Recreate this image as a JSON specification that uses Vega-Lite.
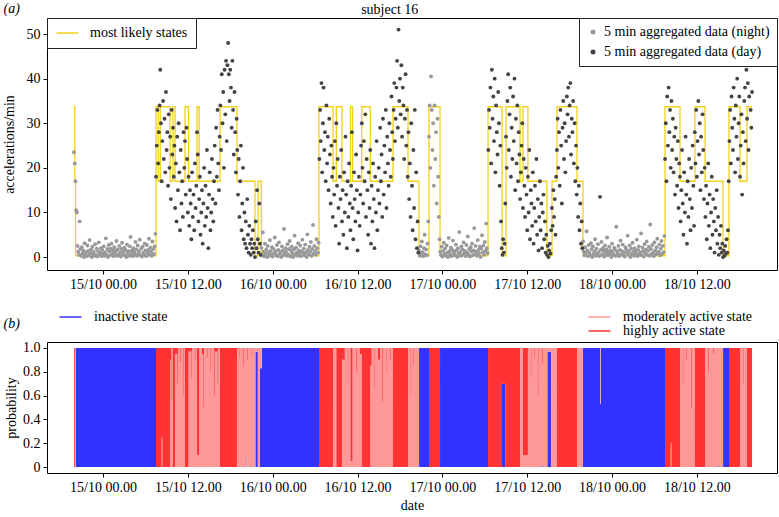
{
"$schema": "https://vega.github.io/schema/vega-lite/v6.json",
"padding": {"left": 1, "top": 0, "right": 0, "bottom": 0},
"background": "white",
"config": {
 "font": "Liberation Serif",
 "view": {"stroke": "#000", "strokeWidth": 1},
 "axis": {"grid": false, "domain": false, "tickColor": "#000", "tickSize": 4, "labelFont": "Liberation Serif", "labelFontSize": 14, "labelColor": "#000", "titleFont": "Liberation Serif", "titleFontSize": 14, "titleFontWeight": "normal", "titleColor": "#000", "labelPadding": 3},
 "legend": {"labelFont": "Liberation Serif", "labelFontSize": 14, "labelColor": "#000", "labelLimit": 400},
 "title": {"font": "Liberation Serif", "fontSize": 14, "fontWeight": "normal", "color": "#000"}
},
"datasets": {
"st": [{"h":-4.1,"v":33.7},{"h":-3.98,"v":17},{"h":-3.88,"v":0.3},{"h":7.5,"v":33.7},{"h":7.8,"v":17},{"h":8.1,"v":33.7},{"h":9.48,"v":17},{"h":9.9,"v":33.7},{"h":10.2,"v":17},{"h":11.6,"v":33.7},{"h":12.1,"v":17},{"h":13.3,"v":33.7},{"h":13.6,"v":17},{"h":16.55,"v":33.7},{"h":18.95,"v":17},{"h":21.5,"v":0.3},{"h":21.92,"v":17},{"h":22.4,"v":0.3},{"h":30.55,"v":33.7},{"h":32.53,"v":17},{"h":33,"v":33.7},{"h":33.8,"v":17},{"h":35,"v":33.7},{"h":35.3,"v":17},{"h":36.6,"v":33.7},{"h":37.8,"v":17},{"h":41.02,"v":33.7},{"h":43.14,"v":17},{"h":44.7,"v":0.3},{"h":46.11,"v":33.7},{"h":47.67,"v":0.3},{"h":54.46,"v":33.7},{"h":56.44,"v":0.3},{"h":57,"v":33.7},{"h":58.98,"v":17},{"h":59.4,"v":33.7},{"h":60.1,"v":17},{"h":62.8,"v":0.3},{"h":63.51,"v":17},{"h":64.21,"v":33.7},{"h":67.04,"v":17},{"h":67.89,"v":0.3},{"h":79.49,"v":33.7},{"h":81.61,"v":17},{"h":83.73,"v":33.7},{"h":85.15,"v":17},{"h":87.7,"v":0.3},{"h":88.54,"v":33.7},{"h":90.1,"v":17},{"h":91.09,"v":33.7},{"h":91.8,"v":33.7}],
"n": [{"h":-4.1,"v":23.5},{"h":-4,"v":21},{"h":-3.9,"v":17},{"h":-3.8,"v":10.5},{"h":-3.7,"v":10},{"h":-3.6,"v":2.5},{"h":-3.5,"v":1.2},{"h":-3.4,"v":0.5},{"h":-3.3,"v":8},{"h":-3.2,"v":1.8},{"h":-3.1,"v":0.3},{"h":-3,"v":2.2},{"h":-2.9,"v":0.8},{"h":-2.8,"v":1.5},{"h":-2.7,"v":0},{"h":-2.6,"v":3.1},{"h":-2.5,"v":0.6},{"h":-2.4,"v":1.1},{"h":-2.3,"v":0.2},{"h":-2.2,"v":2.6},{"h":-2.1,"v":1.4},{"h":-2,"v":0.4},{"h":-1.9,"v":3.8},{"h":-1.8,"v":0.9},{"h":-1.7,"v":1.7},{"h":-1.6,"v":0},{"h":-1.5,"v":2.3},{"h":-1.4,"v":0.7},{"h":-1.3,"v":1.2},{"h":-1.2,"v":0.3},{"h":-1.1,"v":2.9},{"h":-1,"v":0.5},{"h":-0.9,"v":1.9},{"h":-0.8,"v":0.1},{"h":-0.7,"v":1.3},{"h":-0.6,"v":3.3},{"h":-0.5,"v":0.6},{"h":-0.4,"v":1},{"h":-0.3,"v":2},{"h":-0.2,"v":0.2},{"h":-0.1,"v":1.6},{"h":0,"v":0.8},{"h":0.1,"v":2.4},{"h":0.2,"v":0.3},{"h":0.3,"v":1.1},{"h":0.4,"v":4.2},{"h":0.5,"v":0.5},{"h":0.6,"v":1.8},{"h":0.7,"v":0},{"h":0.8,"v":2.7},{"h":0.9,"v":1.3},{"h":1,"v":0.4},{"h":1.1,"v":1.9},{"h":1.2,"v":3},{"h":1.3,"v":0.7},{"h":1.4,"v":1.5},{"h":1.5,"v":0.2},{"h":1.6,"v":2.2},{"h":1.7,"v":0.9},{"h":1.8,"v":1.4},{"h":1.9,"v":3.6},{"h":2,"v":0.3},{"h":2.1,"v":1.7},{"h":2.2,"v":0.6},{"h":2.3,"v":2.5},{"h":2.4,"v":1},{"h":2.5,"v":0.1},{"h":2.6,"v":1.8},{"h":2.7,"v":3.2},{"h":2.8,"v":0.5},{"h":2.9,"v":1.2},{"h":3,"v":2.1},{"h":3.1,"v":0.4},{"h":3.2,"v":1.6},{"h":3.3,"v":0},{"h":3.4,"v":2.8},{"h":3.5,"v":0.9},{"h":3.6,"v":1.3},{"h":3.7,"v":0.3},{"h":3.8,"v":2.4},{"h":3.9,"v":4.5},{"h":4,"v":0.7},{"h":4.1,"v":1.5},{"h":4.2,"v":0.2},{"h":4.3,"v":2},{"h":4.4,"v":1.1},{"h":4.5,"v":0.5},{"h":4.6,"v":3.4},{"h":4.7,"v":1.7},{"h":4.8,"v":0.3},{"h":4.9,"v":2.6},{"h":5,"v":0.8},{"h":5.1,"v":1.3},{"h":5.2,"v":3.9},{"h":5.3,"v":0.4},{"h":5.4,"v":1.9},{"h":5.5,"v":0.1},{"h":5.6,"v":2.3},{"h":5.7,"v":1},{"h":5.8,"v":0.6},{"h":5.9,"v":3},{"h":6,"v":1.5},{"h":6.1,"v":0.2},{"h":6.2,"v":2.7},{"h":6.3,"v":0.9},{"h":6.4,"v":1.6},{"h":6.5,"v":4.1},{"h":6.6,"v":0.5},{"h":6.7,"v":2.1},{"h":6.8,"v":1.2},{"h":6.9,"v":0.3},{"h":7,"v":3.5},{"h":7.1,"v":1.8},{"h":7.2,"v":0.7},{"h":7.3,"v":2.4},{"h":7.4,"v":5.2},
{"h":22.4,"v":2.1},{"h":22.5,"v":0.4},{"h":22.6,"v":5.5},{"h":22.7,"v":1.2},{"h":22.8,"v":0.2},{"h":22.9,"v":3},{"h":23,"v":0.8},{"h":23.1,"v":1.7},{"h":23.2,"v":0},{"h":23.3,"v":2.5},{"h":23.4,"v":1},{"h":23.5,"v":0.3},{"h":23.6,"v":3.8},{"h":23.7,"v":1.4},{"h":23.8,"v":0.6},{"h":23.9,"v":2.2},{"h":24,"v":0.1},{"h":24.1,"v":1.9},{"h":24.2,"v":0.9},{"h":24.3,"v":4.4},{"h":24.4,"v":1.3},{"h":24.5,"v":0.5},{"h":24.6,"v":2.7},{"h":24.7,"v":0.2},{"h":24.8,"v":1.6},{"h":24.9,"v":3.3},{"h":25,"v":0.7},{"h":25.1,"v":1.1},{"h":25.2,"v":0},{"h":25.3,"v":2.4},{"h":25.4,"v":1.5},{"h":25.5,"v":0.4},{"h":25.6,"v":6.3},{"h":25.7,"v":0.9},{"h":25.8,"v":2},{"h":25.9,"v":1.2},{"h":26,"v":0.3},{"h":26.1,"v":2.9},{"h":26.2,"v":0.6},{"h":26.3,"v":1.8},{"h":26.4,"v":3.6},{"h":26.5,"v":0.1},{"h":26.6,"v":1.4},{"h":26.7,"v":2.3},{"h":26.8,"v":0.8},{"h":26.9,"v":0},{"h":27,"v":1.7},{"h":27.1,"v":4.8},{"h":27.2,"v":0.5},{"h":27.3,"v":2.1},{"h":27.4,"v":1},{"h":27.5,"v":0.3},{"h":27.6,"v":3.1},{"h":27.7,"v":1.5},{"h":27.8,"v":0.7},{"h":27.9,"v":2.6},{"h":28,"v":0.2},{"h":28.1,"v":1.3},{"h":28.2,"v":3.9},{"h":28.3,"v":0.9},{"h":28.4,"v":1.9},{"h":28.5,"v":0.4},{"h":28.6,"v":2.8},{"h":28.7,"v":1.1},{"h":28.8,"v":0},{"h":28.9,"v":5.1},{"h":29,"v":1.6},{"h":29.1,"v":0.6},{"h":29.2,"v":2.3},{"h":29.3,"v":1.2},{"h":29.4,"v":3.4},{"h":29.5,"v":0.3},{"h":29.6,"v":1.8},{"h":29.7,"v":7.2},{"h":29.8,"v":0.8},{"h":29.9,"v":2.5},{"h":30,"v":1.4},{"h":30.1,"v":0.5},{"h":30.2,"v":4},{"h":30.3,"v":2},{"h":30.4,"v":1},{"h":30.5,"v":3.2},
{"h":44.7,"v":1.5},{"h":44.8,"v":0.3},{"h":44.9,"v":2.4},{"h":45,"v":0.8},{"h":45.1,"v":3.5},{"h":45.2,"v":1.1},{"h":45.3,"v":0.2},{"h":45.4,"v":2},{"h":45.5,"v":5},{"h":45.6,"v":0.6},{"h":45.7,"v":1.7},{"h":45.8,"v":0.4},{"h":45.9,"v":3},{"h":46,"v":8},{"h":46.1,"v":27},{"h":46.2,"v":34},{"h":46.3,"v":20},{"h":46.4,"v":40.5},{"h":46.5,"v":33},{"h":46.6,"v":24},{"h":46.7,"v":30},{"h":46.8,"v":16},{"h":46.9,"v":34},{"h":47,"v":22},{"h":47.1,"v":28},{"h":47.2,"v":12},{"h":47.3,"v":31},{"h":47.4,"v":18},{"h":47.5,"v":9},{"h":47.6,"v":4},{"h":47.7,"v":1.2},{"h":47.8,"v":0.5},{"h":47.9,"v":2.3},{"h":48,"v":0.1},{"h":48.1,"v":1.4},{"h":48.2,"v":3.2},{"h":48.3,"v":0.7},{"h":48.4,"v":1.9},{"h":48.5,"v":0.3},{"h":48.6,"v":2.6},{"h":48.7,"v":1},{"h":48.8,"v":0},{"h":48.9,"v":4.3},{"h":49,"v":1.3},{"h":49.1,"v":0.6},{"h":49.2,"v":2.1},{"h":49.3,"v":0.2},{"h":49.4,"v":1.6},{"h":49.5,"v":3.7},{"h":49.6,"v":0.9},{"h":49.7,"v":1.2},{"h":49.8,"v":0.4},{"h":49.9,"v":2.8},{"h":50,"v":1.5},{"h":50.1,"v":0},{"h":50.2,"v":2},{"h":50.3,"v":0.8},{"h":50.4,"v":5.6},{"h":50.5,"v":1.1},{"h":50.6,"v":0.3},{"h":50.7,"v":2.4},{"h":50.8,"v":1.7},{"h":50.9,"v":0.5},{"h":51,"v":3.3},{"h":51.1,"v":0.9},{"h":51.2,"v":1.4},{"h":51.3,"v":0.2},{"h":51.4,"v":2.7},{"h":51.5,"v":1},{"h":51.6,"v":4.6},{"h":51.7,"v":0.6},{"h":51.8,"v":1.8},{"h":51.9,"v":0.1},{"h":52,"v":2.2},{"h":52.1,"v":1.3},{"h":52.2,"v":3},{"h":52.3,"v":0.4},{"h":52.4,"v":1.5},{"h":52.5,"v":6.5},{"h":52.6,"v":0.7},{"h":52.7,"v":2.5},{"h":52.8,"v":1.2},{"h":52.9,"v":0.3},{"h":53,"v":3.8},{"h":53.1,"v":1.6},{"h":53.2,"v":0.8},{"h":53.3,"v":2.3},{"h":53.4,"v":0},{"h":53.5,"v":1.9},{"h":53.6,"v":4.9},{"h":53.7,"v":1.1},{"h":53.8,"v":2.6},{"h":53.9,"v":0.5},{"h":54,"v":3.4},{"h":54.1,"v":1.4},{"h":54.2,"v":7.5},{"h":54.3,"v":2},{"h":54.4,"v":0.9},
{"h":67.9,"v":3.5},{"h":68,"v":1.2},{"h":68.1,"v":0.4},{"h":68.2,"v":2.2},{"h":68.3,"v":0.9},{"h":68.4,"v":5.8},{"h":68.5,"v":1.5},{"h":68.6,"v":0.2},{"h":68.7,"v":2.7},{"h":68.8,"v":1},{"h":68.9,"v":0.5},{"h":69,"v":3.1},{"h":69.1,"v":1.8},{"h":69.2,"v":0},{"h":69.3,"v":2.4},{"h":69.4,"v":0.7},{"h":69.5,"v":1.3},{"h":69.6,"v":4},{"h":69.7,"v":0.3},{"h":69.8,"v":1.9},{"h":69.9,"v":0.8},{"h":70,"v":2.9},{"h":70.1,"v":1.1},{"h":70.2,"v":0.2},{"h":70.4,"v":1.6},{"h":70.5,"v":3.4},{"h":70.6,"v":0.6},{"h":70.7,"v":2},{"h":70.8,"v":1.4},{"h":70.9,"v":0.1},{"h":71,"v":2.6},{"h":71.1,"v":0.9},{"h":71.2,"v":1.7},{"h":71.3,"v":4.4},{"h":71.4,"v":0.4},{"h":71.5,"v":1.2},{"h":71.6,"v":2.3},{"h":71.7,"v":0.7},{"h":71.8,"v":1.5},{"h":71.9,"v":0},{"h":72,"v":3},{"h":72.1,"v":1.1},{"h":72.2,"v":0.5},{"h":72.3,"v":2.1},{"h":72.4,"v":1.8},{"h":72.5,"v":0.3},{"h":72.6,"v":6.8},{"h":72.7,"v":1.3},{"h":72.8,"v":0.8},{"h":72.9,"v":2.5},{"h":73,"v":0.2},{"h":73.1,"v":1.6},{"h":73.2,"v":3.7},{"h":73.3,"v":0.6},{"h":73.4,"v":1.4},{"h":73.5,"v":2.8},{"h":73.6,"v":0.4},{"h":73.7,"v":1},{"h":73.8,"v":0.1},{"h":73.9,"v":2.2},{"h":74,"v":1.7},{"h":74.1,"v":0.9},{"h":74.2,"v":4.8},{"h":74.3,"v":0.5},{"h":74.4,"v":1.3},{"h":74.5,"v":2.6},{"h":74.6,"v":0},{"h":74.7,"v":1.9},{"h":74.8,"v":0.7},{"h":74.9,"v":3.2},{"h":75,"v":1.2},{"h":75.1,"v":0.3},{"h":75.2,"v":2},{"h":75.3,"v":1.5},{"h":75.4,"v":0.8},{"h":75.5,"v":3.9},{"h":75.6,"v":0.2},{"h":75.7,"v":1.6},{"h":75.8,"v":2.4},{"h":75.9,"v":0.6},{"h":76,"v":1.1},{"h":76.1,"v":5.3},{"h":76.2,"v":0.4},{"h":76.3,"v":2.1},{"h":76.4,"v":1.3},{"h":76.5,"v":0.1},{"h":76.6,"v":2.9},{"h":76.7,"v":0.9},{"h":76.8,"v":1.7},{"h":76.9,"v":3.5},{"h":77,"v":0.5},{"h":77.1,"v":1.4},{"h":77.2,"v":2.3},{"h":77.3,"v":0.3},{"h":77.4,"v":7.3},{"h":77.5,"v":1.8},{"h":77.6,"v":0.7},{"h":77.7,"v":2.7},{"h":77.8,"v":1},{"h":77.9,"v":0.2},{"h":78,"v":3.3},{"h":78.1,"v":1.5},{"h":78.2,"v":0.6},{"h":78.3,"v":2.2},{"h":78.4,"v":4.1},{"h":78.5,"v":0.9},{"h":78.6,"v":1.2},{"h":78.7,"v":2.8},{"h":78.8,"v":0.4},{"h":78.9,"v":1.9},{"h":79,"v":3.6},{"h":79.1,"v":0.8},{"h":79.2,"v":2.5},{"h":79.3,"v":1.1},{"h":79.4,"v":4.7}],
"d": [{"h":7.5,"v":18},{"h":7.6,"v":25},{"h":7.7,"v":33},{"h":7.8,"v":21},{"h":7.9,"v":28},{"h":8,"v":34},{"h":8.1,"v":42},{"h":8.2,"v":30},{"h":8.3,"v":17},{"h":8.4,"v":26},{"h":8.5,"v":35},{"h":8.6,"v":22},{"h":8.7,"v":31},{"h":8.8,"v":19},{"h":8.9,"v":37},{"h":9,"v":24},{"h":9.1,"v":28},{"h":9.2,"v":16},{"h":9.3,"v":32},{"h":9.4,"v":20},{"h":9.5,"v":27},{"h":9.6,"v":13},{"h":9.7,"v":33},{"h":9.8,"v":23},{"h":9.9,"v":29},{"h":10,"v":18},{"h":10.1,"v":25},{"h":10.2,"v":11},{"h":10.3,"v":21},{"h":10.4,"v":8},{"h":10.5,"v":27},{"h":10.6,"v":15},{"h":10.7,"v":30},{"h":10.8,"v":19},{"h":10.9,"v":6},{"h":11,"v":24},{"h":11.1,"v":12},{"h":11.2,"v":17},{"h":11.3,"v":9},{"h":11.4,"v":28},{"h":11.5,"v":20},{"h":11.6,"v":26},{"h":11.7,"v":14},{"h":11.8,"v":29},{"h":11.9,"v":22},{"h":12,"v":10},{"h":12.1,"v":18},{"h":12.2,"v":7},{"h":12.3,"v":15},{"h":12.4,"v":12},{"h":12.5,"v":4},{"h":12.6,"v":19},{"h":12.7,"v":9},{"h":12.8,"v":14},{"h":12.9,"v":6},{"h":13,"v":21},{"h":13.1,"v":11},{"h":13.2,"v":16},{"h":13.3,"v":28},{"h":13.4,"v":23},{"h":13.5,"v":8},{"h":13.6,"v":13},{"h":13.7,"v":18},{"h":13.8,"v":5},{"h":13.9,"v":10},{"h":14,"v":15},{"h":14.1,"v":3},{"h":14.2,"v":12},{"h":14.3,"v":20},{"h":14.4,"v":7},{"h":14.5,"v":16},{"h":14.6,"v":9},{"h":14.7,"v":24},{"h":14.8,"v":11},{"h":14.9,"v":2},{"h":15,"v":14},{"h":15.1,"v":19},{"h":15.2,"v":6},{"h":15.3,"v":10},{"h":15.4,"v":22},{"h":15.5,"v":13},{"h":15.6,"v":8},{"h":15.7,"v":17},{"h":15.8,"v":25},{"h":15.9,"v":12},{"h":16,"v":29},{"h":16.1,"v":18},{"h":16.2,"v":33},{"h":16.3,"v":21},{"h":16.4,"v":15},{"h":16.5,"v":27},{"h":16.6,"v":34},{"h":16.7,"v":24},{"h":16.8,"v":41},{"h":16.9,"v":30},{"h":17,"v":37},{"h":17.1,"v":20},{"h":17.2,"v":42},{"h":17.3,"v":32},{"h":17.4,"v":44},{"h":17.5,"v":26},{"h":17.6,"v":43},{"h":17.7,"v":48},{"h":17.8,"v":41},{"h":17.9,"v":35},{"h":18,"v":42},{"h":18.1,"v":38},{"h":18.2,"v":29},{"h":18.3,"v":44},{"h":18.4,"v":33},{"h":18.5,"v":23},{"h":18.6,"v":37},{"h":18.7,"v":28},{"h":18.8,"v":19},{"h":18.9,"v":31},{"h":19,"v":24},{"h":19.1,"v":14},{"h":19.2,"v":22},{"h":19.3,"v":9},{"h":19.4,"v":17},{"h":19.5,"v":25},{"h":19.6,"v":6},{"h":19.7,"v":12},{"h":19.8,"v":20},{"h":19.9,"v":4},{"h":20,"v":10},{"h":20.1,"v":3},{"h":20.2,"v":8},{"h":20.3,"v":2},{"h":20.4,"v":13},{"h":20.5,"v":5},{"h":20.6,"v":1},{"h":20.7,"v":7},{"h":20.8,"v":3},{"h":20.9,"v":0.5},{"h":21,"v":4},{"h":21.1,"v":2},{"h":21.2,"v":6},{"h":21.3,"v":1},{"h":21.4,"v":3},{"h":21.5,"v":0},{"h":21.6,"v":8},{"h":21.7,"v":2},{"h":21.8,"v":15},{"h":21.9,"v":4},{"h":22,"v":1},{"h":22.1,"v":12},{"h":22.2,"v":3},{"h":22.3,"v":0.5},
{"h":30.6,"v":22},{"h":30.7,"v":33},{"h":30.8,"v":26},{"h":30.9,"v":39},{"h":31,"v":19},{"h":31.1,"v":30},{"h":31.2,"v":38},{"h":31.3,"v":24},{"h":31.4,"v":28},{"h":31.5,"v":17},{"h":31.6,"v":34},{"h":31.7,"v":21},{"h":31.8,"v":27},{"h":31.9,"v":15},{"h":32,"v":31},{"h":32.1,"v":23},{"h":32.2,"v":12},{"h":32.3,"v":25},{"h":32.4,"v":18},{"h":32.5,"v":9},{"h":32.6,"v":20},{"h":32.7,"v":14},{"h":32.8,"v":26},{"h":32.9,"v":7},{"h":33,"v":30},{"h":33.1,"v":16},{"h":33.2,"v":22},{"h":33.3,"v":11},{"h":33.4,"v":3},{"h":33.5,"v":18},{"h":33.6,"v":13},{"h":33.7,"v":24},{"h":33.8,"v":8},{"h":33.9,"v":15},{"h":34,"v":5},{"h":34.1,"v":19},{"h":34.2,"v":10},{"h":34.3,"v":27},{"h":34.4,"v":14},{"h":34.5,"v":2},{"h":34.6,"v":17},{"h":34.7,"v":9},{"h":34.8,"v":21},{"h":34.9,"v":12},{"h":35,"v":6},{"h":35.1,"v":16},{"h":35.2,"v":28},{"h":35.3,"v":11},{"h":35.4,"v":4},{"h":35.5,"v":19},{"h":35.6,"v":13},{"h":35.7,"v":8},{"h":35.8,"v":23},{"h":35.9,"v":15},{"h":36,"v":1.5},{"h":36.1,"v":10},{"h":36.2,"v":18},{"h":36.3,"v":7},{"h":36.4,"v":14},{"h":36.5,"v":25},{"h":36.6,"v":30},{"h":36.7,"v":20},{"h":36.8,"v":12},{"h":36.9,"v":26},{"h":37,"v":17},{"h":37.1,"v":32},{"h":37.2,"v":9},{"h":37.3,"v":22},{"h":37.4,"v":15},{"h":37.5,"v":5},{"h":37.6,"v":19},{"h":37.7,"v":11},{"h":37.8,"v":24},{"h":37.9,"v":3},{"h":38,"v":16},{"h":38.1,"v":8},{"h":38.2,"v":21},{"h":38.3,"v":13},{"h":38.4,"v":2},{"h":38.5,"v":18},{"h":38.6,"v":10},{"h":38.7,"v":26},{"h":38.8,"v":6},{"h":38.9,"v":15},{"h":39,"v":20},{"h":39.1,"v":12},{"h":39.2,"v":29},{"h":39.3,"v":17},{"h":39.4,"v":23},{"h":39.5,"v":9},{"h":39.6,"v":31},{"h":39.7,"v":14},{"h":39.8,"v":25},{"h":39.9,"v":19},{"h":40,"v":33},{"h":40.1,"v":11},{"h":40.2,"v":27},{"h":40.3,"v":21},{"h":40.4,"v":16},{"h":40.5,"v":30},{"h":40.6,"v":24},{"h":40.7,"v":18},{"h":40.8,"v":36},{"h":40.9,"v":28},{"h":41,"v":22},{"h":41.1,"v":33},{"h":41.2,"v":39},{"h":41.3,"v":26},{"h":41.4,"v":31},{"h":41.5,"v":38},{"h":41.6,"v":44},{"h":41.7,"v":29},{"h":41.8,"v":51},{"h":41.9,"v":35},{"h":42,"v":40},{"h":42.1,"v":32},{"h":42.2,"v":43},{"h":42.3,"v":27},{"h":42.4,"v":38},{"h":42.5,"v":34},{"h":42.6,"v":22},{"h":42.7,"v":31},{"h":42.8,"v":41},{"h":42.9,"v":25},{"h":43,"v":33},{"h":43.1,"v":18},{"h":43.2,"v":28},{"h":43.3,"v":13},{"h":43.4,"v":21},{"h":43.5,"v":9},{"h":43.6,"v":30},{"h":43.7,"v":16},{"h":43.8,"v":6},{"h":43.9,"v":24},{"h":44,"v":11},{"h":44.1,"v":33},{"h":44.2,"v":4},{"h":44.3,"v":19},{"h":44.4,"v":2},{"h":44.5,"v":8},{"h":44.6,"v":1},
{"h":54.5,"v":24},{"h":54.6,"v":33},{"h":54.7,"v":29},{"h":54.8,"v":38},{"h":54.9,"v":21},{"h":55,"v":42},{"h":55.1,"v":31},{"h":55.2,"v":36},{"h":55.3,"v":26},{"h":55.4,"v":40},{"h":55.5,"v":19},{"h":55.6,"v":34},{"h":55.7,"v":28},{"h":55.8,"v":23},{"h":55.9,"v":37},{"h":56,"v":30},{"h":56.1,"v":16},{"h":56.2,"v":25},{"h":56.3,"v":8},{"h":56.4,"v":2},{"h":56.5,"v":0.5},{"h":56.6,"v":4},{"h":56.7,"v":1},{"h":56.8,"v":3},{"h":56.9,"v":12},{"h":57,"v":27},{"h":57.1,"v":20},{"h":57.2,"v":35},{"h":57.3,"v":41},{"h":57.4,"v":24},{"h":57.5,"v":32},{"h":57.6,"v":38},{"h":57.7,"v":18},{"h":57.8,"v":29},{"h":57.9,"v":22},{"h":58,"v":36},{"h":58.1,"v":26},{"h":58.2,"v":40},{"h":58.3,"v":15},{"h":58.4,"v":31},{"h":58.5,"v":21},{"h":58.6,"v":34},{"h":58.7,"v":17},{"h":58.8,"v":28},{"h":58.9,"v":23},{"h":59,"v":13},{"h":59.1,"v":19},{"h":59.2,"v":25},{"h":59.3,"v":30},{"h":59.4,"v":11},{"h":59.5,"v":22},{"h":59.6,"v":16},{"h":59.7,"v":9},{"h":59.8,"v":20},{"h":59.9,"v":14},{"h":60,"v":6},{"h":60.1,"v":18},{"h":60.2,"v":10},{"h":60.3,"v":24},{"h":60.4,"v":4},{"h":60.5,"v":15},{"h":60.6,"v":12},{"h":60.7,"v":7},{"h":60.8,"v":19},{"h":60.9,"v":3},{"h":61,"v":11},{"h":61.1,"v":16},{"h":61.2,"v":8},{"h":61.3,"v":22},{"h":61.4,"v":5},{"h":61.5,"v":13},{"h":61.6,"v":1.5},{"h":61.7,"v":9},{"h":61.8,"v":17},{"h":61.9,"v":6},{"h":62,"v":12},{"h":62.1,"v":2},{"h":62.2,"v":10},{"h":62.3,"v":14},{"h":62.4,"v":4},{"h":62.5,"v":8},{"h":62.6,"v":1},{"h":62.7,"v":5},{"h":62.8,"v":0.5},{"h":62.9,"v":2.5},{"h":63,"v":0},{"h":63.1,"v":1.5},{"h":63.2,"v":3},{"h":63.3,"v":0.8},{"h":63.4,"v":6},{"h":63.5,"v":11},{"h":63.6,"v":7},{"h":63.7,"v":15},{"h":63.8,"v":9},{"h":63.9,"v":13},{"h":64,"v":5},{"h":64.1,"v":18},{"h":64.2,"v":24},{"h":64.3,"v":31},{"h":64.4,"v":20},{"h":64.5,"v":28},{"h":64.6,"v":16},{"h":64.7,"v":33},{"h":64.8,"v":25},{"h":64.9,"v":12},{"h":65,"v":29},{"h":65.1,"v":35},{"h":65.2,"v":22},{"h":65.3,"v":30},{"h":65.4,"v":19},{"h":65.5,"v":26},{"h":65.6,"v":36},{"h":65.7,"v":32},{"h":65.8,"v":38},{"h":65.9,"v":27},{"h":66,"v":34},{"h":66.1,"v":39},{"h":66.2,"v":23},{"h":66.3,"v":31},{"h":66.4,"v":28},{"h":66.5,"v":35},{"h":66.6,"v":21},{"h":66.7,"v":30},{"h":66.8,"v":17},{"h":66.9,"v":25},{"h":67,"v":14},{"h":67.1,"v":20},{"h":67.2,"v":9},{"h":67.3,"v":16},{"h":67.4,"v":6},{"h":67.5,"v":12},{"h":67.6,"v":3},{"h":67.7,"v":8},{"h":67.8,"v":2},
{"h":70.3,"v":13.5},
{"h":79.5,"v":22},{"h":79.6,"v":30},{"h":79.7,"v":17},{"h":79.8,"v":36},{"h":79.9,"v":25},{"h":80,"v":38},{"h":80.1,"v":28},{"h":80.2,"v":33},{"h":80.3,"v":20},{"h":80.4,"v":35},{"h":80.5,"v":24},{"h":80.6,"v":31},{"h":80.7,"v":19},{"h":80.8,"v":27},{"h":80.9,"v":14},{"h":81,"v":29},{"h":81.1,"v":22},{"h":81.2,"v":16},{"h":81.3,"v":26},{"h":81.4,"v":11},{"h":81.5,"v":21},{"h":81.6,"v":18},{"h":81.7,"v":8},{"h":81.8,"v":15},{"h":81.9,"v":24},{"h":82,"v":12},{"h":82.1,"v":5},{"h":82.2,"v":19},{"h":82.3,"v":10},{"h":82.4,"v":27},{"h":82.5,"v":14},{"h":82.6,"v":3},{"h":82.7,"v":17},{"h":82.8,"v":9},{"h":82.9,"v":22},{"h":83,"v":13},{"h":83.1,"v":6},{"h":83.2,"v":20},{"h":83.3,"v":11},{"h":83.4,"v":25},{"h":83.5,"v":16},{"h":83.6,"v":7},{"h":83.7,"v":28},{"h":83.8,"v":21},{"h":83.9,"v":33},{"h":84,"v":18},{"h":84.1,"v":26},{"h":84.2,"v":35},{"h":84.3,"v":23},{"h":84.4,"v":30},{"h":84.5,"v":15},{"h":84.6,"v":27},{"h":84.7,"v":19},{"h":84.8,"v":32},{"h":84.9,"v":24},{"h":85,"v":13},{"h":85.1,"v":20},{"h":85.2,"v":9},{"h":85.3,"v":16},{"h":85.4,"v":4},{"h":85.5,"v":12},{"h":85.6,"v":21},{"h":85.7,"v":7},{"h":85.8,"v":14},{"h":85.9,"v":2},{"h":86,"v":10},{"h":86.1,"v":18},{"h":86.2,"v":5},{"h":86.3,"v":13},{"h":86.4,"v":8},{"h":86.5,"v":1},{"h":86.6,"v":11},{"h":86.7,"v":6},{"h":86.8,"v":15},{"h":86.9,"v":3},{"h":87,"v":9},{"h":87.1,"v":0.5},{"h":87.2,"v":5},{"h":87.3,"v":2},{"h":87.4,"v":7},{"h":87.5,"v":1},{"h":87.6,"v":3},{"h":87.7,"v":0},{"h":87.8,"v":1.5},{"h":87.9,"v":0.3},{"h":88,"v":2.5},{"h":88.1,"v":0.8},{"h":88.2,"v":4},{"h":88.3,"v":1},{"h":88.4,"v":6},{"h":88.5,"v":17},{"h":88.6,"v":26},{"h":88.7,"v":33},{"h":88.8,"v":21},{"h":88.9,"v":36},{"h":89,"v":29},{"h":89.1,"v":24},{"h":89.2,"v":38},{"h":89.3,"v":31},{"h":89.4,"v":19},{"h":89.5,"v":34},{"h":89.6,"v":27},{"h":89.7,"v":40},{"h":89.8,"v":22},{"h":89.9,"v":30},{"h":90,"v":36},{"h":90.1,"v":18},{"h":90.2,"v":25},{"h":90.3,"v":32},{"h":90.4,"v":14},{"h":90.5,"v":28},{"h":90.6,"v":21},{"h":90.7,"v":35},{"h":90.8,"v":38},{"h":90.9,"v":26},{"h":91,"v":42},{"h":91.1,"v":31},{"h":91.2,"v":39},{"h":91.3,"v":24},{"h":91.4,"v":36},{"h":91.5,"v":43},{"h":91.6,"v":33},{"h":91.7,"v":29},{"h":91.8,"v":37}],
"pr": [{"h":-4.1,"a":0,"b":0,"c":1},{"h":-3.98,"a":0,"b":1,"c":0},{"h":-3.88,"a":1,"b":0,"c":0},{"h":7.5,"a":0,"b":0,"c":1},{"h":8.3,"a":0,"b":0.25,"c":0.75},{"h":8.4,"a":0,"b":0,"c":1},{"h":9.48,"a":0,"b":0.9,"c":0.1},{"h":9.6,"a":0,"b":0.55,"c":0.45},{"h":9.7,"a":0,"b":1,"c":0},{"h":9.9,"a":0,"b":0,"c":1},{"h":10.2,"a":0,"b":0.95,"c":0.05},{"h":10.5,"a":0,"b":0.7,"c":0.3},{"h":10.6,"a":0,"b":1,"c":0},{"h":10.9,"a":0,"b":0.88,"c":0.12},{"h":11,"a":0,"b":1,"c":0},{"h":11.3,"a":0,"b":0.6,"c":0.4},{"h":11.4,"a":0,"b":1,"c":0},{"h":11.6,"a":0,"b":0,"c":1},{"h":12.1,"a":0,"b":0.97,"c":0.03},{"h":12.5,"a":0,"b":0.75,"c":0.25},{"h":12.6,"a":0,"b":1,"c":0},{"h":13,"a":0,"b":0.9,"c":0.1},{"h":13.1,"a":0,"b":1,"c":0},{"h":13.3,"a":0,"b":0.1,"c":0.9},{"h":13.6,"a":0,"b":1,"c":0},{"h":14,"a":0,"b":0.95,"c":0.05},{"h":14.2,"a":0,"b":0.5,"c":0.5},{"h":14.3,"a":0,"b":1,"c":0},{"h":14.7,"a":0,"b":0.92,"c":0.08},{"h":14.8,"a":0,"b":1,"c":0},{"h":15.2,"a":0,"b":0.8,"c":0.2},{"h":15.3,"a":0,"b":1,"c":0},{"h":15.7,"a":0,"b":0.6,"c":0.4},{"h":15.8,"a":0,"b":0.97,"c":0.03},{"h":16.2,"a":0,"b":0.7,"c":0.3},{"h":16.3,"a":0,"b":1,"c":0},{"h":16.55,"a":0,"b":0,"c":1},{"h":18.95,"a":0,"b":1,"c":0},{"h":19.3,"a":0.02,"b":0.9,"c":0.08},{"h":19.4,"a":0,"b":1,"c":0},{"h":19.8,"a":0,"b":0.85,"c":0.15},{"h":19.9,"a":0,"b":1,"c":0},{"h":20.3,"a":0.1,"b":0.9,"c":0},{"h":20.4,"a":0,"b":0.9,"c":0.1},{"h":20.5,"a":0,"b":1,"c":0},{"h":20.9,"a":0,"b":0.93,"c":0.07},{"h":21,"a":0,"b":1,"c":0},{"h":21.55,"a":0.97,"b":0.03,"c":0},{"h":21.9,"a":0,"b":1,"c":0},{"h":22.2,"a":0.83,"b":0.17,"c":0},{"h":22.45,"a":1,"b":0,"c":0},{"h":30.55,"a":0,"b":0,"c":1},{"h":32.53,"a":0,"b":1,"c":0},{"h":33,"a":0,"b":0,"c":1},{"h":33.8,"a":0,"b":0.9,"c":0.1},{"h":34.2,"a":0,"b":1,"c":0},{"h":34.6,"a":0,"b":0.7,"c":0.3},{"h":34.7,"a":0,"b":1,"c":0},{"h":35,"a":0,"b":0.05,"c":0.95},{"h":35.3,"a":0,"b":1,"c":0},{"h":35.8,"a":0,"b":0.8,"c":0.2},{"h":35.9,"a":0,"b":1,"c":0},{"h":36.3,"a":0,"b":0.95,"c":0.05},{"h":36.6,"a":0,"b":0,"c":1},{"h":37.8,"a":0,"b":0.85,"c":0.15},{"h":38,"a":0,"b":1,"c":0},{"h":38.4,"a":0,"b":0.65,"c":0.35},{"h":38.5,"a":0,"b":1,"c":0},{"h":38.9,"a":0,"b":0.9,"c":0.1},{"h":39.2,"a":0,"b":1,"c":0},{"h":39.5,"a":0,"b":0.55,"c":0.45},{"h":39.6,"a":0,"b":1,"c":0},{"h":40.1,"a":0,"b":0.8,"c":0.2},{"h":40.2,"a":0,"b":1,"c":0},{"h":40.6,"a":0,"b":0.9,"c":0.1},{"h":40.7,"a":0,"b":1,"c":0},{"h":41.02,"a":0,"b":0,"c":1},{"h":43.14,"a":0,"b":1,"c":0},{"h":43.5,"a":0,"b":0.6,"c":0.4},{"h":43.6,"a":0,"b":1,"c":0},{"h":43.9,"a":0,"b":0.85,"c":0.15},{"h":44,"a":0,"b":1,"c":0},{"h":44.7,"a":1,"b":0,"c":0},{"h":46.11,"a":0,"b":0,"c":1},{"h":47.67,"a":1,"b":0,"c":0},{"h":54.46,"a":0,"b":0,"c":1},{"h":56.44,"a":0.7,"b":0,"c":0.3},{"h":56.9,"a":0,"b":0,"c":1},{"h":58.98,"a":0,"b":1,"c":0},{"h":59.4,"a":0,"b":0.1,"c":0.9},{"h":60.1,"a":0,"b":1,"c":0},{"h":60.5,"a":0,"b":0.75,"c":0.25},{"h":60.6,"a":0,"b":1,"c":0},{"h":61,"a":0,"b":0.92,"c":0.08},{"h":61.1,"a":0,"b":1,"c":0},{"h":61.5,"a":0,"b":0.6,"c":0.4},{"h":61.6,"a":0,"b":1,"c":0},{"h":62.1,"a":0.02,"b":0.85,"c":0.13},{"h":62.2,"a":0,"b":1,"c":0},{"h":62.85,"a":0.97,"b":0.03,"c":0},{"h":63.4,"a":0,"b":1,"c":0},{"h":64.21,"a":0,"b":0,"c":1},{"h":67.04,"a":0,"b":1,"c":0},{"h":67.89,"a":1,"b":0,"c":0},{"h":70.3,"a":0.53,"b":0.47,"c":0},{"h":70.4,"a":1,"b":0,"c":0},{"h":79.49,"a":0,"b":0,"c":1},{"h":80.3,"a":0,"b":0.2,"c":0.8},{"h":80.4,"a":0,"b":0,"c":1},{"h":81.61,"a":0,"b":1,"c":0},{"h":82,"a":0,"b":0.7,"c":0.3},{"h":82.1,"a":0,"b":1,"c":0},{"h":82.5,"a":0,"b":0.9,"c":0.1},{"h":82.6,"a":0,"b":1,"c":0},{"h":83.2,"a":0,"b":0.5,"c":0.5},{"h":83.3,"a":0,"b":1,"c":0},{"h":83.73,"a":0,"b":0,"c":1},{"h":85.15,"a":0,"b":1,"c":0},{"h":85.6,"a":0,"b":0.8,"c":0.2},{"h":85.7,"a":0,"b":1,"c":0},{"h":86.3,"a":0,"b":0.95,"c":0.05},{"h":86.4,"a":0,"b":1,"c":0},{"h":87,"a":0.02,"b":0.98,"c":0},{"h":87.1,"a":0,"b":1,"c":0},{"h":87.7,"a":1,"b":0,"c":0},{"h":88.54,"a":0,"b":0,"c":1},{"h":90.1,"a":0,"b":1,"c":0},{"h":90.5,"a":0,"b":0.7,"c":0.3},{"h":90.6,"a":0,"b":1,"c":0},{"h":91.09,"a":0,"b":0,"c":1},{"h":91.8,"a":0,"b":0,"c":1}]
},
"spacing": 72,
"bounds": "flush",
"resolve": {"scale": {"color": "independent", "stroke": "independent"}, "legend": {"color": "independent", "stroke": "independent"}},
"vconcat": [
{
 "width": 730, "height": 252,
 "title": {"text": "subject 16", "anchor": "middle", "frame": "bounds", "offset": -16},
 "encoding": {
  "x": {"field": "h", "type": "quantitative", "scale": {"domain": [-7.92, 95.33], "nice": false, "zero": false}, "axis": {"values": [0,12,24,36,48,60,72,84], "labelExpr": "['15/10','16/10','17/10','18/10'][floor(datum.value/24)] + (datum.value % 24 == 0 ? ' 00.00' : ' 12.00')", "title": null}}
 },
 "layer": [
  {"data": {"name": "st"}, "mark": {"type": "line", "interpolate": "step-after", "strokeWidth": 1.3},
   "encoding": {
    "y": {"field": "v", "type": "quantitative", "scale": {"domain": [-2.9, 53.6], "nice": false, "zero": false}, "axis": {"values": [0,10,20,30,40,50], "title": "accelerations/min", "titlePadding": 10}},
    "stroke": {"datum": "most likely states", "scale": {"range": ["#f3d11a"]}, "legend": {"orient": "top-left", "offset": 0, "title": null, "strokeColor": "#222", "fillColor": "#fff", "padding": 8, "symbolType": "M-1,0H3", "symbolSize": 121, "symbolStrokeWidth": 1.5, "labelOffset": 21}}
   }},
  {"data": {"name": "n"}, "mark": {"type": "circle", "size": 15, "opacity": 1},
   "encoding": {
    "y": {"field": "v", "type": "quantitative", "scale": {"domain": [-2.9, 53.6], "nice": false, "zero": false}, "axis": {"orient": "right", "labels": false, "ticks": false, "domain": false, "title": "(a)", "titleAngle": 0, "titleX": -774, "titleY": -10, "titleFontStyle": "italic", "titleAlign": "left", "titleBaseline": "middle", "minExtent": 0}},
    "color": {"datum": "5 min aggregated data (night)", "scale": {"domain": ["5 min aggregated data (night)", "5 min aggregated data (day)"], "range": ["#999999", "#444444"]}, "legend": {"orient": "top-right", "offset": 0, "title": null, "strokeColor": "#222", "fillColor": "#fff", "padding": 7, "symbolType": "circle", "symbolSize": 25, "rowPadding": 6}}
   }},
  {"data": {"name": "d"}, "mark": {"type": "circle", "size": 15, "opacity": 1},
   "encoding": {
    "y": {"field": "v", "type": "quantitative", "scale": {"domain": [-2.9, 53.6], "nice": false, "zero": false}, "axis": null},
    "color": {"datum": "5 min aggregated data (day)"}
   }}
 ],
 "resolve": {"axis": {"y": "independent"}}
},
{
 "width": 730, "height": 131,
 "layer": [
  {"data": {"name": "pr"}, "transform": [{"fold": ["a","b","c"], "as": ["k","p"]}],
   "mark": {"type": "area", "interpolate": "step-after"},
   "encoding": {
    "x": {"field": "h", "type": "quantitative", "scale": {"domain": [-7.92, 95.33], "nice": false, "zero": false}, "axis": {"values": [0,12,24,36,48,60,72,84], "labelExpr": "['15/10','16/10','17/10','18/10'][floor(datum.value/24)] + (datum.value % 24 == 0 ? ' 00.00' : ' 12.00')", "title": "date", "titlePadding": 4}},
    "y": {"field": "p", "type": "quantitative", "stack": "zero", "scale": {"domain": [-0.05, 1.05], "nice": false, "zero": false}, "axis": {"values": [0,0.2,0.4,0.6,0.8,1], "labelExpr": "datum.value == 0 ? '0' : format(datum.value, '.1f')", "title": "probability", "titlePadding": 4}},
    "color": {"field": "k", "type": "nominal", "scale": {"domain": ["a","b","c"], "range": ["#3333ff", "#ff9999", "#ff3333"]}, "legend": null},
    "order": {"field": "k", "type": "nominal", "sort": "ascending"}
   }},
  {"data": {"values": [{"s": "inactive state"}]}, "mark": {"type": "line"},
   "encoding": {
    "y": {"datum": 0.5, "type": "quantitative", "axis": {"orient": "right", "labels": false, "ticks": false, "domain": false, "title": "(b)", "titleAngle": 0, "titleX": -774, "titleY": -19, "titleFontStyle": "italic", "titleAlign": "left", "titleBaseline": "middle", "minExtent": 0}},
    "stroke": {"field": "s", "type": "nominal", "scale": {"domain": ["inactive state"], "range": ["#3333ff"]}, "legend": {"orient": "none", "legendX": 11, "legendY": -32, "title": null, "symbolType": "M-1,0H3", "symbolSize": 121, "symbolStrokeWidth": 1.5, "labelOffset": 22}}
   }},
  {"data": {"values": [{"s": "moderately active state"}, {"s": "highly active state"}]}, "mark": {"type": "line"},
   "encoding": {
    "stroke": {"field": "s", "type": "nominal", "sort": null, "scale": {"domain": ["moderately active state", "highly active state"], "range": ["#ff9999", "#ff3333"]}, "legend": {"orient": "none", "legendX": 540, "legendY": -32, "title": null, "symbolType": "M-1,0H3", "symbolSize": 121, "symbolStrokeWidth": 1.5, "labelOffset": 22, "rowPadding": 0}}
   }}
 ],
 "resolve": {"axis": {"y": "independent"}, "scale": {"stroke": "independent"}, "legend": {"stroke": "independent"}}
}
]
}
